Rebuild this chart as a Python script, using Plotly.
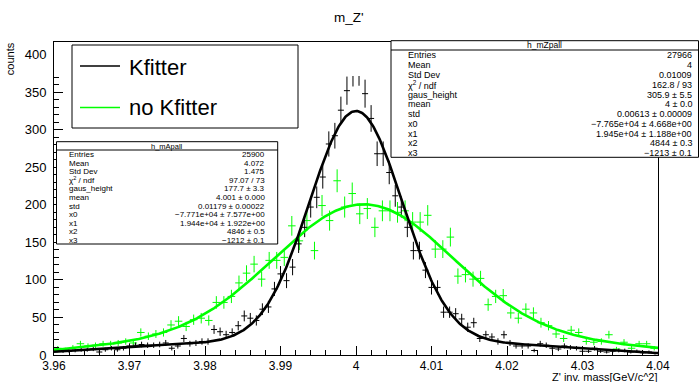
import numpy as np
import plotly.graph_objects as go

# ---------------- data ----------------
# black histogram "Kfitter" (h_mZpall): 100 bins, 3.96 - 4.04
kf_edges = [3.96, 4.04]
kf_counts = [6, 5, 5, 6, 7, 7, 8, 4, 7, 9,
             7, 9, 12, 13, 14, 13, 13, 14, 16, 9,
             12, 22, 15, 16, 18, 18, 34, 31, 27, 30,
             39, 52, 49, 46, 61, 64, 88, 108, 99, 117,
             148, 170, 197, 210, 237, 281, 292, 326, 352, 377,
             378, 348, 315, 268, 268, 243, 212, 197, 170, 139,
             139, 113, 90, 90, 57, 57, 55, 48, 37, 43,
             22, 27, 24, 18, 27, 16, 12, 12, 12, 6,
             15, 13, 9, 8, 12, 10, 9, 5, 5, 9,
             5, 4, 5, 6, 6, 4, 5, 3, 4, 2]
# green histogram "no Kfitter" (h_mApall): 80 bins, 3.96 - 4.04
nk_edges = [3.96, 4.04]
nk_counts = [9, 7, 10, 15, 12, 13, 15, 15, 16, 18,
             16, 30, 25, 28, 30, 40, 45, 38, 47, 49,
             46, 70, 70, 78, 96, 109, 121, 101, 126, 126,
             130, 172, 152, 179, 139, 199, 179, 232, 197, 215,
             188, 195, 170, 192, 192, 190, 192, 177, 177, 186,
             141, 141, 157, 105, 107, 101, 102, 67, 78, 79,
             56, 49, 61, 56, 43, 39, 28, 22, 33, 30,
             18, 17, 18, 27, 8, 17, 9, 15, 15, 9]

# fit parameters: gaus height, mean, sigma, background b0..b3 in (x-4)
kf_fit = [305.9, 4.0, 0.00613, 19.0, -22.0, -9712.0, -1213.0]
nk_fit = [177.7, 4.001, 0.01179, 23.0, 32.0, -9698.0, -1212.0]

# stats boxes text
kf_stats_name = "h_mZpall"
kf_stats = [("Entries", "27966"), ("Mean", "4"), ("Std Dev", "0.01009"),
            ("χ<sup>2</sup> / ndf", "162.8 / 93"), ("gaus_height", "305.9 ± 5.5"),
            ("mean", "4 ± 0.0"), ("std", "0.00613 ± 0.00009"),
            ("x0", "−7.765e+04 ± 4.668e+00"), ("x1", "1.945e+04 ± 1.188e+00"),
            ("x2", "4844 ± 0.3"), ("x3", "−1213 ± 0.1")]
nk_stats_name = "h_mApall"
nk_stats = [("Entries", "25900"), ("Mean", "4.072"), ("Std Dev", "1.475"),
            ("χ<sup>2</sup> / ndf", "97.07 / 73"), ("gaus_height", "177.7 ± 3.3"),
            ("mean", "4.001 ± 0.000"), ("std", "0.01179 ± 0.00022"),
            ("x0", "−7.771e+04 ± 7.577e+00"), ("x1", "1.944e+04 ± 1.922e+00"),
            ("x2", "4846 ± 0.5"), ("x3", "−1212 ± 0.1")]

x_tick_vals = [3.96, 3.97, 3.98, 3.99, 4.0, 4.01, 4.02, 4.03, 4.04]
x_tick_text = ["3.96", "3.97", "3.98", "3.99", "4", "4.01", "4.02", "4.03", "4.04"]
y_tick_vals = [0, 50, 100, 150, 200, 250, 300, 350, 400]

GREEN = "#00ff00"
FONT = "Liberation Sans, Arial, Helvetica, sans-serif"

# ---------------- geometry ----------------
W, H = 699, 382
L, R, T, B = 54, 41, 42, 27
PW, PH = W - L - R, H - T - B


def px(x):
    return (x - L) / PW


def py(y):
    return (H - B - y) / PH


def centers(edges, n):
    w = (edges[1] - edges[0]) / n
    return np.array([edges[0] + w * (i + 0.5) for i in range(n)]), w


def model(x, p):
    t = x - 4.0
    return p[0] * np.exp(-0.5 * ((x - p[1]) / p[2]) ** 2) + p[3] + p[4] * t + p[5] * t ** 2 + p[6] * t ** 3


fig = go.Figure()

# histograms with error crosses
for counts, edges, col in [(nk_counts, nk_edges, GREEN), (kf_counts, kf_edges, "black")]:
    c = np.array(counts, dtype=float)
    xc, bw = centers(edges, len(c))
    fig.add_trace(go.Scatter(
        x=xc, y=c, mode="markers",
        marker=dict(size=1, color=col, opacity=0),
        error_y=dict(type="data", array=np.sqrt(c), color=col, thickness=1, width=0),
        error_x=dict(type="constant", value=bw / 2, color=col, thickness=1, width=0),
        showlegend=False, hoverinfo="skip"))

# fit curves
xs = np.linspace(3.96, 4.04, 600)
fig.add_trace(go.Scatter(x=xs, y=model(xs, nk_fit), mode="lines",
                         line=dict(color=GREEN, width=2.6), showlegend=False))
fig.add_trace(go.Scatter(x=xs, y=model(xs, kf_fit), mode="lines",
                         line=dict(color="black", width=2.6), showlegend=False))

# helper (empty) trace carrying the rotated "counts" title on a small top axis
fig.add_trace(go.Scatter(x=[3.96], y=[0], yaxis="y2", mode="markers",
                         marker=dict(size=1, opacity=0), showlegend=False, hoverinfo="skip"))

shapes = []
annotations = []


def box(x0, y0, x1, y1):
    shapes.append(dict(type="rect", xref="paper", yref="paper",
                       x0=px(x0), x1=px(x1), y0=py(y1), y1=py(y0),
                       line=dict(color="black", width=1), fillcolor="white", layer="above"))


def hline(x0, x1, y, color="black", width=1):
    shapes.append(dict(type="line", xref="paper", yref="paper",
                       x0=px(x0), x1=px(x1), y0=py(y), y1=py(y),
                       line=dict(color=color, width=width), layer="above"))


def text(s, x, y, size, anchor="left", yanchor="middle"):
    annotations.append(dict(text=s, x=px(x), y=py(y), xref="paper", yref="paper",
                            xanchor=anchor, yanchor=yanchor, showarrow=False,
                            font=dict(family=FONT, size=size, color="black")))


# legend
box(72, 45, 298, 128)
hline(80, 120, 66, "black", 1.5)
hline(80, 120, 107.5, GREEN, 1.5)
text("Kfitter", 127, 67, 22)
text("no Kfitter", 127, 108, 22)

# stats box 1 (Kfitter) - runs to the right edge of the canvas
bx0, bx1, by0, by1 = 391, 698.5, 40.7, 157.3
box(bx0, by0, bx1, by1)
hline(bx0, bx1, 50)
text(kf_stats_name, (bx0 + bx1) / 2, 45.5, 8.5, anchor="center")
for k, (a, b) in enumerate(kf_stats):
    yy = 55.5 + 9.75 * k
    text(a, 406, yy, 9)
    text(b, 694, yy, 9, anchor="right")

# stats box 2 (no Kfitter)
cx0, cx1, cy0, cy1 = 56.5, 277.7, 141.7, 244
box(cx0, cy0, cx1, cy1)
hline(cx0, cx1, 150)
text(nk_stats_name, (cx0 + cx1) / 2, 146, 7.5, anchor="center")
for k, (a, b) in enumerate(nk_stats):
    yy = 154.5 + 8.6 * k
    text(a, 67, yy, 8)
    text(b, 267, yy, 8, anchor="right")

# titles
text("m_Z'", 349, 18, 13.5, anchor="center")
text("Z' inv. mass[GeV/c^2]", 659, 376.5, 11, anchor="right")

fig.update_layout(
    width=W, height=H, margin=dict(l=L, r=R, t=T, b=B),
    paper_bgcolor="white", plot_bgcolor="white",
    shapes=shapes, annotations=annotations, showlegend=False,
    font=dict(family=FONT, size=13, color="black"),
    yaxis2=dict(domain=[py(76), py(42)], anchor="free", position=0,
                showticklabels=False, ticks="", showline=False, showgrid=False,
                zeroline=False, fixedrange=True, automargin=False,
                title=dict(text="counts", font=dict(family=FONT, size=11, color="black"),
                           standoff=36)),
)
fig.update_xaxes(range=[3.96, 4.04], tickvals=x_tick_vals, ticktext=x_tick_text,
                 ticks="inside", ticklen=9, tickcolor="black", showgrid=False, zeroline=False,
                 showline=True, linecolor="black", linewidth=1, mirror=True, automargin=False,
                 tickfont=dict(size=12), ticklabelstandoff=0,
                 minor=dict(ticks="inside", dtick=0.002, tick0=3.96, ticklen=5, tickcolor="black"))
fig.layout.yaxis.update(range=[0, 416.8], tickvals=y_tick_vals,
                        ticks="inside", ticklen=9, tickcolor="black", showgrid=False, zeroline=False,
                        showline=True, linecolor="black", linewidth=1, mirror=True, automargin=False,
                        tickfont=dict(size=13), ticklabelstandoff=4,
                        minor=dict(ticks="inside", dtick=10, tick0=0, ticklen=5, tickcolor="black"))

fig.write_html("out.html")
